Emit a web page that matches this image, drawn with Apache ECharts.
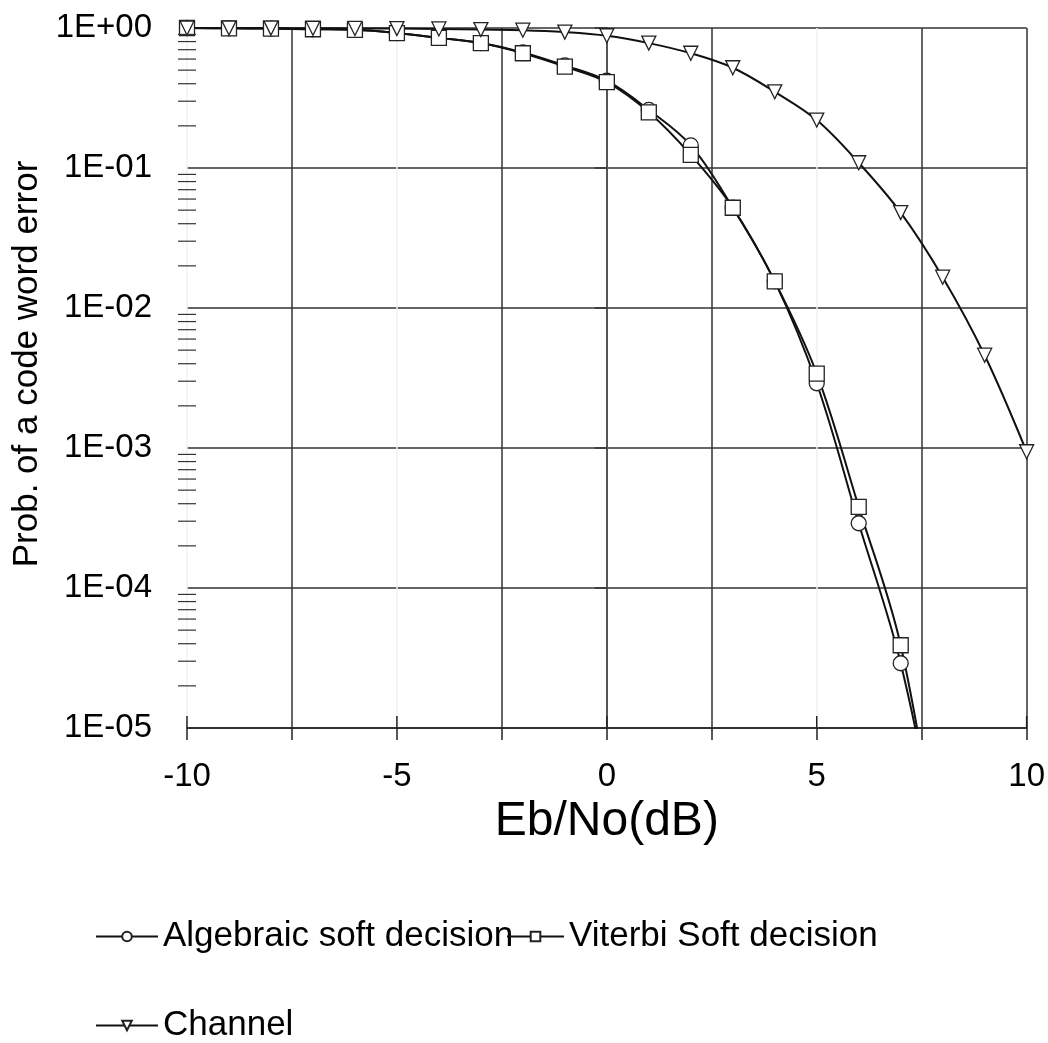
<!DOCTYPE html>
<html>
<head>
<meta charset="utf-8">
<script src="https://cdn.jsdelivr.net/npm/echarts@6/dist/echarts.min.js"></script>
<style>
html,body{margin:0;padding:0;background:#ffffff;}
#chart{width:1048px;height:1043px;}
</style>
</head>
<body>
<div id="chart"></div>
<script>
// ---- data ----
const ebNoAll = [-10,-9,-8,-7,-6,-5,-4,-3,-2,-1,0,1,2,3,4,5,6,7,8,9,10];
const ebNoCoded = [-10,-9,-8,-7,-6,-5,-4,-3,-2,-1,0,1,2,3,4,5,6,7,8];
const algebraicSoft = [1.0,0.995,0.99,0.98,0.97,0.92,0.85,0.78,0.67,0.54,0.42,0.26,0.145,0.052,0.0155,0.0029,0.00029,0.000029,0.000001];
const viterbiSoft  = [1.0,0.995,0.99,0.98,0.97,0.92,0.85,0.78,0.66,0.53,0.41,0.25,0.124,0.052,0.0155,0.0034,0.00038,0.000039,0.0000008];
const channel = [1.0,0.999,0.998,0.996,0.993,0.99,0.985,0.975,0.965,0.935,0.88,0.78,0.66,0.52,0.35,0.22,0.109,0.048,0.0166,0.0046,0.00094];
const seriesNames = ['Algebraic soft decision','Viterbi Soft decision','Channel'];
const xTickLabels = ['-10','-5','0','5','10'];
const xLabeledTicks = [-10,-5,0,5,10];
const yTickLabels = ['1E-05','1E-04','1E-03','1E-02','1E-01','1E+00'];

const FONT = "'Liberation Sans', Arial, sans-serif";

// minor tick values of the log axis (2..9 per decade)
const yMinorTickValues = [];
for (let e = -5; e < 0; e++) {
  for (let m = 2; m <= 9; m++) yMinorTickValues.push(m * Math.pow(10, e));
}

function pairs(xs, ys) { return ys.map((y, i) => [xs[i], y]); }

const chart = echarts.init(document.getElementById('chart'), null, {renderer: 'canvas'});

const lineSeries = (name, xs, ys, symbol, size, rotate) => ({
  name: name,
  type: 'line',
  data: pairs(xs, ys),
  smooth: 0.35,
  clip: true,
  symbol: symbol,
  symbolSize: size,
  symbolRotate: rotate,
  showAllSymbol: true,
  lineStyle: {color: '#111', width: 2},
  itemStyle: {color: '#ffffff', borderColor: '#222', borderWidth: 1.3},
  z: 3
});

const legendBase = {
  orient: 'horizontal',
  itemWidth: 62,
  itemHeight: 12,
  itemGap: 0,
  padding: 0,
  selectedMode: false,
  textStyle: {fontSize: 35, color: '#000', fontFamily: FONT}
};

const option = {
  backgroundColor: '#ffffff',
  animation: false,
  grid: {left: 187, right: 19, top: 28, bottom: 315, containLabel: false},
  legend: [
    Object.assign({}, legendBase, {data: [seriesNames[0]], left: 95, top: 919}),
    Object.assign({}, legendBase, {data: [seriesNames[1]], left: 506, top: 919, itemWidth: 57}),
    Object.assign({}, legendBase, {data: [seriesNames[2]], left: 95, top: 1008})
  ],
  xAxis: {
    type: 'value',
    min: -10,
    max: 10,
    interval: 2.5,
    name: 'Eb/No(dB)',
    nameLocation: 'middle',
    nameGap: 70,
    nameTextStyle: {fontSize: 48, color: '#000', fontFamily: FONT},
    axisLine: {show: true, onZero: false, lineStyle: {color: '#222', width: 1.5}},
    axisTick: {show: true, length: 12, lineStyle: {color: '#222', width: 1.5}},
    axisLabel: {
      fontSize: 33, color: '#000', fontFamily: FONT, margin: 32,
      formatter: v => (Math.abs(v % 5) < 1e-9 ? xTickLabels[Math.round((v + 10) / 5)] : '')
    },
    splitLine: {
      show: true,
      lineStyle: {
        color: ['#f0f0f0','#333333','#f0f0f0','#333333','#f0f0f0','#333333','#f0f0f0','#333333','#333333'],
        width: 1.5
      }
    }
  },
  yAxis: {
    type: 'log',
    logBase: 10,
    min: 1e-5,
    max: 1,
    name: 'Prob. of a code word error',
    nameLocation: 'middle',
    nameGap: 140,
    nameTextStyle: {fontSize: 35, color: '#000', fontFamily: FONT, padding: [0, 0, 0, 28]},
    axisLine: {show: true, lineStyle: {color: '#222', width: 1.5}},
    axisTick: {show: true, length: 12, lineStyle: {color: '#333', width: 1.5}},
    minorTick: {show: false},
    axisLabel: {
      fontSize: 33, color: '#000', fontFamily: FONT, margin: 35,
      formatter: v => yTickLabels[Math.round(Math.log10(v)) + 5]
    },
    splitLine: {show: true, lineStyle: {color: '#333333', width: 1.5}}
  },
  series: [
    lineSeries(seriesNames[0], ebNoCoded, algebraicSoft, 'circle', 15, 0),
    lineSeries(seriesNames[1], ebNoCoded, viterbiSoft, 'rect', 15, 0),
    lineSeries(seriesNames[2], ebNoAll, channel, 'triangle', 14, 180),
    {
      name: 'yMinorTicks',
      type: 'custom',
      coordinateSystem: 'cartesian2d',
      silent: true,
      clip: false,
      z: 4,
      data: yMinorTickValues.map(v => [-10, v]),
      renderItem: function (params, api) {
        const p = api.coord([api.value(0), api.value(1)]);
        return {
          type: 'line',
          shape: {x1: p[0] - 9, y1: p[1], x2: p[0] + 9, y2: p[1]},
          style: {stroke: '#333', lineWidth: 1.2}
        };
      }
    },
    {
      name: 'xInnerTicks',
      type: 'custom',
      coordinateSystem: 'cartesian2d',
      silent: true,
      clip: false,
      z: 4,
      data: xLabeledTicks.map(v => [v, 1e-5]),
      renderItem: function (params, api) {
        const p = api.coord([api.value(0), api.value(1)]);
        return {
          type: 'line',
          shape: {x1: p[0], y1: p[1], x2: p[0], y2: p[1] - 12},
          style: {stroke: '#222', lineWidth: 1.5}
        };
      }
    }
  ]
};

chart.setOption(option);
</script>
</body>
</html>
